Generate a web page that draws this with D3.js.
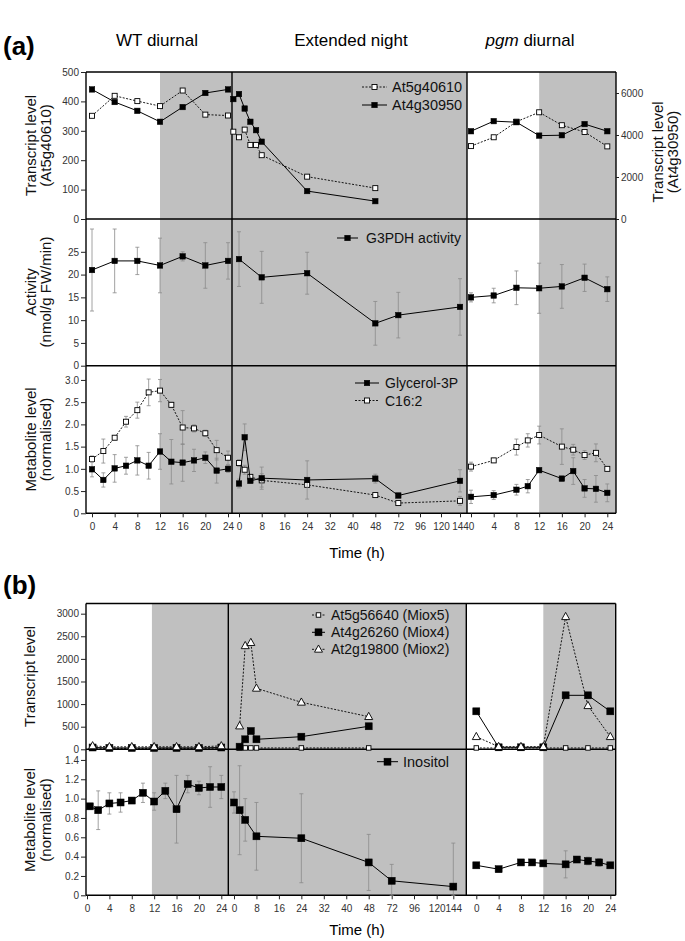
<!DOCTYPE html>
<html>
<head>
<meta charset="utf-8">
<script src="https://cdn.jsdelivr.net/npm/d3@7"></script>
<style>
  body { margin: 0; background: #fff; }
  text { font-family: "Liberation Sans", Arial, Helvetica, sans-serif; }
</style>
</head>
<body>
<svg id="chart" width="685" height="941"></svg>
<script>
// ---------------- data : panel (a) ----------------
var diurnalTicks = [0, 4, 8, 12, 16, 20, 24];
var extTicks = [0, 8, 16, 24, 32, 40, 48, 72, 96, 120, 144];
var extSteps = [0, 48, 72, 96, 120, 144];

// transcripts (At5g40610 on left axis, At4g30950 on right axis)
var wtT = [0, 4, 8, 12, 16, 20, 24];
var wtAt5g40610 = [351, 419, 401, 384, 437, 355, 352];
var wtAt4g30950 = [6170, 5570, 5150, 4630, 5330, 6000, 6170];
var extT = [-2, 0, 2, 4, 6, 8, 24, 48];
var extAt5g40610 = [297, 278, 304, 252, 252, 217, 144, 105];
var extAt4g30950 = [5710, 5950, 5260, 4630, 4230, 3680, 1330, 850];
var pgmT = [0, 4, 8, 12, 16, 20, 24];
var pgmAt5g40610 = [248, 278, 331, 363, 319, 296, 247];
var pgmAt4g30950 = [4180, 4660, 4610, 3970, 3990, 4520, 4180];

// G3PDH activity
var wtG3pdh = [21, 23, 23, 22, 24, 22, 23];
var wtG3pdhErr = [9, 7, 3, 6, 1, 5, 4];
var extActT = [0, 8, 24, 48, 72, 144];
var extG3pdh = [23.4, 19.4, 20.3, 9.3, 11.1, 12.9];
var extG3pdhErr = [6, 5.7, 4.6, 4.8, 5, 6.2];
var pgmG3pdh = [15, 15.4, 17.1, 17, 17.4, 19.3, 16.8];
var pgmG3pdhErr = [1, 1.6, 3.7, 5.5, 4.8, 3, 2.7];

// metabolites
var wtMetT = [0, 2, 4, 6, 8, 10, 12, 14, 16, 18, 20, 22, 24];
var wtGly3P = [0.99, 0.75, 1.01, 1.07, 1.19, 1.07, 1.39, 1.16, 1.14, 1.19, 1.25, 0.96, 1.0];
var wtGly3PErr = [0.17, 0.16, 0.31, 0.19, 0.33, 0.3, 0.4, 0.5, 0.42, 0.25, 0.13, 0.28, 0.08];
var wtC162 = [1.22, 1.40, 1.70, 2.06, 2.32, 2.72, 2.76, 2.44, 1.93, 1.91, 1.80, 1.42, 1.25];
var wtC162Err = [0.07, 0.27, 0.05, 0.12, 0.18, 0.3, 0.25, 0.06, 0.38, 0.08, 0.07, 0.22, 0.15];
var extMetT = [0, 2, 4, 8, 24, 48, 72, 144];
var extGly3P = [0.67, 1.71, 0.73, 0.79, 0.75, 0.78, 0.40, 0.73];
var extGly3PErr = [0.1, 0.3, 0.05, 0.25, 0.43, 0.1, 0.05, 0.25];
var extC162 = [1.13, 0.98, 0.82, 0.74, 0.64, 0.41, 0.23, 0.28];
var extC162Err = [0.08, 0.1, 0.05, 0.15, 0.05, 0.05, 0.05, 0.1];
var pgmMetT = [0, 4, 8, 10, 12, 16, 18, 20, 22, 24];
var pgmC162 = [1.05, 1.19, 1.49, 1.64, 1.76, 1.50, 1.43, 1.31, 1.36, 1.00];
var pgmC162Err = [0.1, 0.05, 0.18, 0.15, 0.2, 0.4, 0.12, 0.1, 0.2, 0.05];
var pgmGly3P = [0.37, 0.41, 0.53, 0.61, 0.97, 0.78, 0.95, 0.56, 0.55, 0.46];
var pgmGly3PErr = [0.15, 0.1, 0.12, 0.15, 0.05, 0.05, 0.3, 0.2, 0.3, 0.2];

// ---------------- data : panel (b) ----------------
var wtTb = [1, 4, 8, 12, 16, 20, 24];
var wtMiox5 = [25, 20, 20, 20, 20, 20, 25];
var wtMiox4 = [40, 30, 30, 30, 30, 30, 40];
var wtMiox2 = [75, 55, 55, 55, 55, 55, 75];
var extTb = [2, 4, 6, 8, 24, 48];
var extMiox5 = [30, 30, 30, 30, 30, 30];
var extMiox4 = [58, 221, 405, 221, 279, 509];
var extMiox2 = [515, 2290, 2360, 1349, 1040, 722];
var pgmTb = [0, 4, 8, 12, 16, 20, 24];
var pgmMiox5 = [30, 30, 30, 30, 30, 30, 30];
var pgmMiox4 = [840, 44, 44, 44, 1194, 1194, 840];
var pgmMiox2 = [279, 58, 58, 58, 2933, 964, 279];

var wtTi = [0.5, 2, 4, 6, 8, 10, 12, 14, 16, 18, 20, 22, 24];
var wtInositol = [0.92, 0.88, 0.95, 0.96, 0.98, 1.06, 0.97, 1.08, 0.89, 1.15, 1.11, 1.12, 1.12];
var wtInositolErr = [0.03, 0.2, 0.11, 0.1, 0.03, 0.1, 0.09, 0.08, 0.35, 0.09, 0.07, 0.21, 0.12];
var extTi = [0, 2, 4, 8, 24, 48, 72, 144];
var extInositol = [0.96, 0.88, 0.78, 0.61, 0.59, 0.34, 0.15, 0.09];
var extInositolErr = [0.11, 0.46, 0.22, 0.35, 0.46, 0.29, 0.17, 0.45];
var pgmTi = [0, 4, 8, 10, 12, 16, 18, 20, 22, 24];
var pgmInositol = [0.31, 0.27, 0.34, 0.34, 0.33, 0.32, 0.37, 0.355, 0.34, 0.31];
var pgmInositolErr = [0.02, 0.02, 0.02, 0.02, 0.02, 0.14, 0.03, 0.04, 0.04, 0.02];

// ---------------- layout ----------------
var svg = d3.select("#chart");
var SHADE = "#c0c0c0";
var fmtDec = function (d) { return d === 0 ? "0" : d3.format(".1f")(d); };

var colsA = [
  {x0: 86, x1: 232, dark: 12, x: d3.scaleLinear().domain([0, 24]).range([92, 228]), ticks: diurnalTicks},
  {x0: 232, x1: 467, dark: null, x: d3.scaleLinear().domain(extSteps).range([239, 375.3, 398.3, 420, 441, 460]), ticks: extTicks},
  {x0: 467, x1: 616, dark: 12, x: d3.scaleLinear().domain([0, 24]).range([471, 607.3]), ticks: diurnalTicks}
];
var rowsA = [
  {y0: 72, y1: 219, y: d3.scaleLinear().domain([0, 500]).range([219, 72]), ticks: d3.range(0, 501, 100), fmt: d3.format("d")},
  {y0: 219, y1: 365.7, y: d3.scaleLinear().domain([0, 32.2]).range([365.7, 219]), ticks: d3.range(0, 26, 5), fmt: d3.format("d")},
  {y0: 365.7, y1: 513.3, y: d3.scaleLinear().domain([0, 3.32]).range([513.3, 365.7]), ticks: d3.range(0, 3.01, 0.5), fmt: fmtDec}
];
var yRightA = d3.scaleLinear().domain([0, 7000]).range([219, 72]);

var colsB = [
  {x0: 86, x1: 228.3, dark: 11.6, x: d3.scaleLinear().domain([0, 24]).range([87, 221.3]), ticks: diurnalTicks},
  {x0: 228.3, x1: 466.3, dark: null, x: d3.scaleLinear().domain(extSteps).range([234, 368.7, 391.7, 414, 436.7, 453.3]), ticks: extTicks},
  {x0: 466.3, x1: 615.7, dark: 12, x: d3.scaleLinear().domain([0, 24]).range([476.3, 610.3]), ticks: diurnalTicks}
];
var rowsB = [
  {y0: 603.5, y1: 749.3, y: d3.scaleLinear().domain([0, 3225]).range([749.3, 603.5]), ticks: d3.range(0, 3001, 500), fmt: d3.format("d")},
  {y0: 749.3, y1: 895.3, y: d3.scaleLinear().domain([0, 1.51]).range([895.3, 749.3]), ticks: d3.range(0, 1.41, 0.2), fmt: fmtDec}
];

function styleAxis(g) {
  g.select(".domain").remove();
  g.selectAll(".tick line").attr("stroke", "#222").attr("stroke-width", 1);
  g.selectAll(".tick text").attr("fill", "#333").style("font-size", "10px")
    .style("font-family", "'Liberation Sans', Arial, sans-serif");
}

function drawFrame(cols, rows) {
  var top = rows[0].y0, bottom = rows[rows.length - 1].y1;
  var left = cols[0].x0, right = cols[cols.length - 1].x1;
  cols.forEach(function (c) {
    var xs = c.dark == null ? c.x0 : c.x(c.dark);
    svg.append("rect").attr("x", xs).attr("y", top)
      .attr("width", c.x1 - xs).attr("height", bottom - top).attr("fill", SHADE);
  });
  var fr = svg.append("g").attr("stroke", "#000").attr("stroke-width", 1.4);
  rows.forEach(function (r) {
    fr.append("line").attr("x1", left).attr("x2", right).attr("y1", r.y0).attr("y2", r.y0);
  });
  fr.append("line").attr("x1", left).attr("x2", right).attr("y1", bottom).attr("y2", bottom);
  cols.forEach(function (c) {
    fr.append("line").attr("x1", c.x0).attr("x2", c.x0).attr("y1", top).attr("y2", bottom);
  });
  fr.append("line").attr("x1", right).attr("x2", right).attr("y1", top).attr("y2", bottom);

  rows.forEach(function (r) {
    svg.append("g").attr("transform", "translate(" + left + ",0)")
      .call(d3.axisLeft(r.y).tickValues(r.ticks).tickFormat(r.fmt).tickSize(5).tickPadding(2))
      .call(styleAxis);
  });
  cols.forEach(function (c) {
    svg.append("g").attr("transform", "translate(0," + bottom + ")")
      .call(d3.axisBottom(c.x).tickValues(c.ticks).tickSize(4).tickPadding(6))
      .call(styleAxis);
  });
}

function marker(g, kind, x, y, s) {
  if (kind === "tri") {
    var h = s * 0.9;
    g.append("path")
      .attr("d", "M" + x + "," + (y - h * 0.6) + "L" + (x + s / 2) + "," + (y + h * 0.4) + "L" + (x - s / 2) + "," + (y + h * 0.4) + "Z")
      .attr("fill", "#fff").attr("stroke", "#000").attr("stroke-width", 0.9);
  } else {
    g.append("rect").attr("x", x - s / 2).attr("y", y - s / 2).attr("width", s).attr("height", s)
      .attr("fill", kind === "filled" ? "#000" : "#fff")
      .attr("stroke", "#000").attr("stroke-width", kind === "filled" ? 0.5 : 0.9);
  }
}

function drawSeries(col, yScale, t, v, err, kind, size) {
  var g = svg.append("g");
  var pts = t.map(function (d, i) { return {x: col.x(d), y: yScale(v[i]), v: v[i], e: err ? err[i] : 0}; });
  if (err) {
    var eg = g.append("g").attr("stroke", "#8a8a8a").attr("stroke-width", 0.8);
    pts.forEach(function (p) {
      var yt = yScale(p.v + p.e), yb = yScale(Math.max(0, p.v - p.e));
      eg.append("line").attr("x1", p.x).attr("x2", p.x).attr("y1", yt).attr("y2", yb);
      eg.append("line").attr("x1", p.x - 2).attr("x2", p.x + 2).attr("y1", yt).attr("y2", yt);
      eg.append("line").attr("x1", p.x - 2).attr("x2", p.x + 2).attr("y1", yb).attr("y2", yb);
    });
  }
  g.append("path")
    .attr("d", d3.line().x(function (p) { return p.x; }).y(function (p) { return p.y; })(pts))
    .attr("fill", "none").attr("stroke", "#000")
    .attr("stroke-width", kind === "filled" ? 1 : 0.9)
    .attr("stroke-dasharray", kind === "filled" ? null : "2,1.5");
  pts.forEach(function (p) { marker(g, kind, p.x, p.y, size); });
}

function legendItem(x1, x2, y, kind, size, label, tx, fs) {
  var g = svg.append("g");
  g.append("line").attr("x1", x1).attr("x2", x2).attr("y1", y).attr("y2", y)
    .attr("stroke", "#000").attr("stroke-width", kind === "filled" ? 1 : 0.9)
    .attr("stroke-dasharray", kind === "filled" ? null : "2,1.5");
  marker(g, kind, (x1 + x2) / 2, y, size);
  g.append("text").attr("x", tx).attr("y", y + fs * 0.36).style("font-size", fs + "px").attr("fill", "#111").text(label);
}

function vTitle(lines, cx, cy, fs, gap) {
  lines.forEach(function (s, i) {
    var x = cx + i * gap + fs * 0.36;
    svg.append("text").attr("transform", "translate(" + x + "," + cy + ") rotate(-90)")
      .attr("text-anchor", "middle").style("font-size", fs + "px").attr("fill", "#111").text(s);
  });
}

// ---------------- panel (a) ----------------
drawFrame(colsA, rowsA);
svg.append("g").attr("transform", "translate(616,0)")
  .call(d3.axisRight(yRightA).tickValues([0, 2000, 4000, 6000]).tickSize(3).tickPadding(2).tickFormat(d3.format("d")))
  .call(styleAxis);

var yA1 = rowsA[0].y, yA2 = rowsA[1].y, yA3 = rowsA[2].y;
drawSeries(colsA[0], yA1, wtT, wtAt5g40610, null, "open", 5);
drawSeries(colsA[0], yRightA, wtT, wtAt4g30950, null, "filled", 5.5);
drawSeries(colsA[1], yA1, extT, extAt5g40610, null, "open", 5);
drawSeries(colsA[1], yRightA, extT, extAt4g30950, null, "filled", 5.5);
drawSeries(colsA[2], yA1, pgmT, pgmAt5g40610, null, "open", 5);
drawSeries(colsA[2], yRightA, pgmT, pgmAt4g30950, null, "filled", 5.5);

drawSeries(colsA[0], yA2, wtT, wtG3pdh, wtG3pdhErr, "filled", 5.5);
drawSeries(colsA[1], yA2, extActT, extG3pdh, extG3pdhErr, "filled", 5.5);
drawSeries(colsA[2], yA2, pgmT, pgmG3pdh, pgmG3pdhErr, "filled", 5.5);

drawSeries(colsA[0], yA3, wtMetT, wtC162, wtC162Err, "open", 5);
drawSeries(colsA[0], yA3, wtMetT, wtGly3P, wtGly3PErr, "filled", 5.5);
drawSeries(colsA[1], yA3, extMetT, extC162, extC162Err, "open", 5);
drawSeries(colsA[1], yA3, extMetT, extGly3P, extGly3PErr, "filled", 5.5);
drawSeries(colsA[2], yA3, pgmMetT, pgmC162, pgmC162Err, "open", 5);
drawSeries(colsA[2], yA3, pgmMetT, pgmGly3P, pgmGly3PErr, "filled", 5.5);

legendItem(362, 387, 87, "open", 5, "At5g40610", 392, 14.5);
legendItem(362, 387, 105, "filled", 5.5, "At4g30950", 392, 14.5);
legendItem(337, 358, 238, "filled", 5.5, "G3PDH activity", 366, 14);
legendItem(355, 379, 383, "filled", 5.5, "Glycerol-3P", 385, 14);
legendItem(355, 379, 400.5, "open", 5, "C16:2", 385, 14);

svg.append("text").attr("x", 3).attr("y", 55).style("font-size", "26px").style("font-weight", "bold").text("(a)");
svg.append("text").attr("x", 157).attr("y", 46).attr("text-anchor", "middle").style("font-size", "17px").text("WT diurnal");
svg.append("text").attr("x", 351).attr("y", 46).attr("text-anchor", "middle").style("font-size", "17px").text("Extended night");
var pgmHead = svg.append("text").attr("x", 530).attr("y", 46).attr("text-anchor", "middle").style("font-size", "17px");
pgmHead.append("tspan").style("font-style", "italic").text("pgm");
pgmHead.append("tspan").text(" diurnal");

vTitle(["Transcript level", "(At5g40610)"], 31, 145.5, 15, 15);
vTitle(["Activity", "(nmol/g FW/min)"], 31, 292, 15, 15);
vTitle(["Metabolite level", "(normalised)"], 31, 439.5, 15, 15);
vTitle(["Transcript level", "(At4g30950)"], 658, 152, 15, 15);
svg.append("text").attr("x", 357).attr("y", 558).attr("text-anchor", "middle").style("font-size", "15px").text("Time (h)");

// ---------------- panel (b) ----------------
drawFrame(colsB, rowsB);
var yB1 = rowsB[0].y, yB2 = rowsB[1].y;
drawSeries(colsB[0], yB1, wtTb, wtMiox5, null, "open", 4.5);
drawSeries(colsB[0], yB1, wtTb, wtMiox4, null, "filled", 7);
drawSeries(colsB[0], yB1, wtTb, wtMiox2, null, "tri", 8);
drawSeries(colsB[1], yB1, extTb, extMiox5, null, "open", 4.5);
drawSeries(colsB[1], yB1, extTb, extMiox4, null, "filled", 7);
drawSeries(colsB[1], yB1, extTb, extMiox2, null, "tri", 8);
drawSeries(colsB[2], yB1, pgmTb, pgmMiox5, null, "open", 4.5);
drawSeries(colsB[2], yB1, pgmTb, pgmMiox4, null, "filled", 7);
drawSeries(colsB[2], yB1, pgmTb, pgmMiox2, null, "tri", 8);

drawSeries(colsB[0], yB2, wtTi, wtInositol, wtInositolErr, "filled", 7);
drawSeries(colsB[1], yB2, extTi, extInositol, extInositolErr, "filled", 7);
drawSeries(colsB[2], yB2, pgmTi, pgmInositol, pgmInositolErr, "filled", 7);

legendItem(312, 325, 615, "open", 4.5, "At5g56640 (Miox5)", 331, 14);
legendItem(312, 325, 632.3, "filled", 7, "At4g26260 (Miox4)", 331, 14);
legendItem(312, 325, 649.3, "tri", 8, "At2g19800 (Miox2)", 331, 14);
legendItem(377, 398, 761.7, "filled", 7, "Inositol", 403, 14.5);

svg.append("text").attr("x", 3).attr("y", 594).style("font-size", "26px").style("font-weight", "bold").text("(b)");
vTitle(["Transcript level"], 30, 676.4, 15, 15);
vTitle(["Metabolite level", "(normalised)"], 30, 820, 15, 16);
svg.append("text").attr("x", 357).attr("y", 935).attr("text-anchor", "middle").style("font-size", "15px").text("Time (h)");
</script>
</body>
</html>
